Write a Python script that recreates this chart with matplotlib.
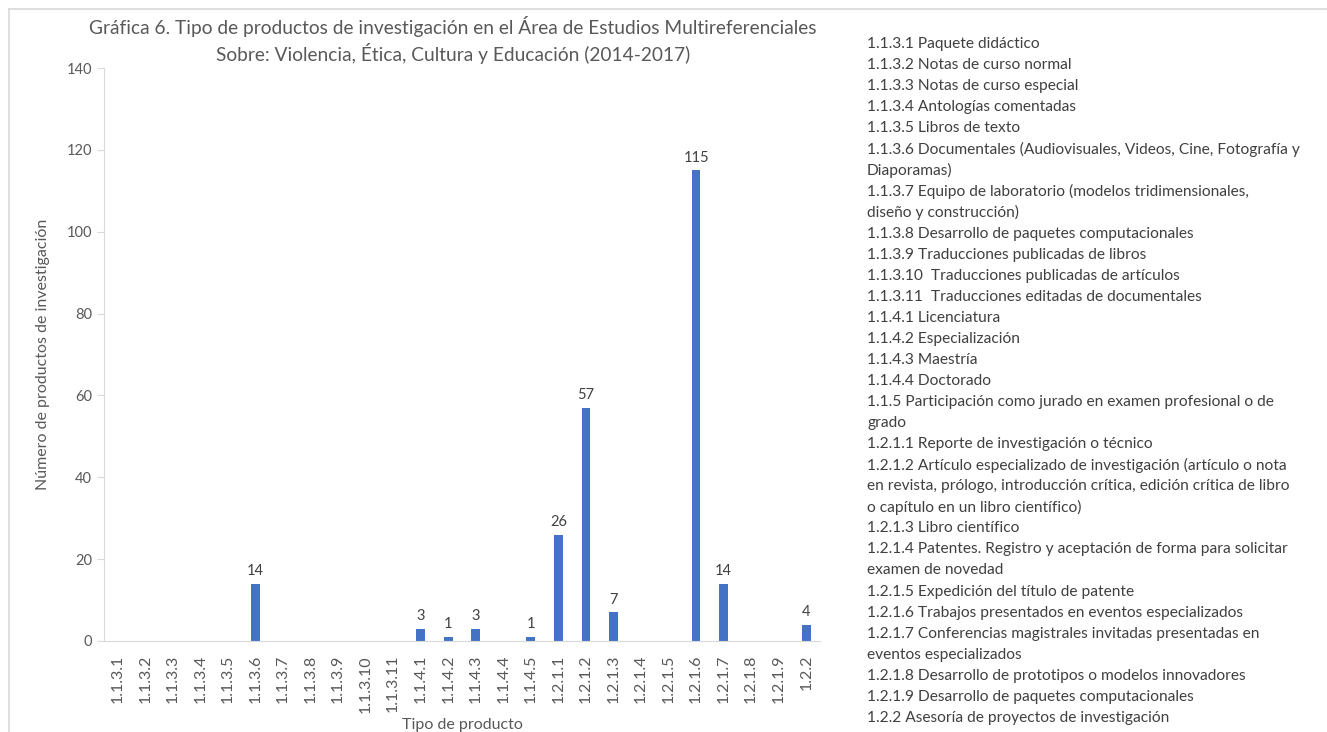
import matplotlib.pyplot as plt
from matplotlib.lines import Line2D
import numpy as np

plt.rcParams['font.family'] = ['Lato', 'DejaVu Sans']

categorias = ['1.1.3.1', '1.1.3.2', '1.1.3.3', '1.1.3.4', '1.1.3.5', '1.1.3.6',
              '1.1.3.7', '1.1.3.8', '1.1.3.9', '1.1.3.10', '1.1.3.11',
              '1.1.4.1', '1.1.4.2', '1.1.4.3', '1.1.4.4', '1.1.4.5',
              '1.2.1.1', '1.2.1.2', '1.2.1.3', '1.2.1.4', '1.2.1.5', '1.2.1.6',
              '1.2.1.7', '1.2.1.8', '1.2.1.9', '1.2.2']
valores = [0, 0, 0, 0, 0, 14, 0, 0, 0, 0, 0,
           3, 1, 3, 0, 1,
           26, 57, 7, 0, 0, 115, 14, 0, 0, 4]

descripciones = [
    "1.1.3.1 Paquete didáctico",
    "1.1.3.2 Notas de curso normal",
    "1.1.3.3 Notas de curso especial",
    "1.1.3.4 Antologías comentadas",
    "1.1.3.5 Libros de texto",
    "1.1.3.6 Documentales (Audiovisuales, Videos, Cine, Fotografía y\nDiaporamas)",
    "1.1.3.7 Equipo de laboratorio (modelos tridimensionales,\ndiseño y construcción)",
    "1.1.3.8 Desarrollo de paquetes computacionales",
    "1.1.3.9 Traducciones publicadas de libros",
    "1.1.3.10  Traducciones publicadas de artículos",
    "1.1.3.11  Traducciones editadas de documentales",
    "1.1.4.1 Licenciatura",
    "1.1.4.2 Especialización",
    "1.1.4.3 Maestría",
    "1.1.4.4 Doctorado",
    "1.1.5 Participación como jurado en examen profesional o de\ngrado",
    "1.2.1.1 Reporte de investigación o técnico",
    "1.2.1.2 Artículo especializado de investigación (artículo o nota\n"
    "en revista, prólogo, introducción crítica, edición crítica de libro\n"
    "o capítulo en un libro científico)",
    "1.2.1.3 Libro científico",
    "1.2.1.4 Patentes. Registro y aceptación de forma para solicitar\nexamen de novedad",
    "1.2.1.5 Expedición del título de patente",
    "1.2.1.6 Trabajos presentados en eventos especializados",
    "1.2.1.7 Conferencias magistrales invitadas presentadas en\neventos especializados",
    "1.2.1.8 Desarrollo de prototipos o modelos innovadores",
    "1.2.1.9 Desarrollo de paquetes computacionales",
    "1.2.2 Asesoría de proyectos de investigación",
]

W, H = 1327, 732
fig = plt.figure(figsize=(W / 100, H / 100), dpi=100)
ax = fig.add_axes([104 / W, 1 - 641 / H, (820 - 104) / W, (641 - 68) / H])

gris = '#595959'
eje = '#d9d9d9'
x = np.arange(len(categorias))
barras = ax.bar(x, valores, width=0.32, color='#4472C4')
for b, v in zip(barras, valores):
    if v > 0:
        ax.annotate(str(v), (b.get_x() + b.get_width() / 2, v), xytext=(0, 4),
                    textcoords='offset points', ha='center', va='bottom',
                    fontsize=10.5, color='#404040')

ax.set_xlim(-0.5, len(categorias) - 0.5)
ax.set_ylim(0, 140)
ax.set_yticks(range(0, 141, 20))
ax.set_xticks(x)
ax.set_xticklabels(categorias, rotation=90, fontsize=11.5, color=gris)
ax.tick_params(axis='y', colors=eje, labelcolor=gris, labelsize=10.5, length=5)
ax.tick_params(axis='x', length=0, pad=10)
for s in ['top', 'right']:
    ax.spines[s].set_visible(False)
for s in ['left', 'bottom']:
    ax.spines[s].set_color(eje)

ax.set_ylabel('Número de productos de investigación', fontsize=11.5, color=gris, labelpad=12)
ax.set_xlabel('Tipo de producto', fontsize=11.5, color=gris, labelpad=4)

fig.text(453 / W, 1 - 40 / H,
         'Gráfica 6. Tipo de productos de investigación en el Área de Estudios Multireferenciales\n'
         'Sobre: Violencia, Ética, Cultura y Educación (2014-2017)',
         ha='center', va='center', fontsize=13.8, color=gris, linespacing=1.3)

# texto de la derecha, una línea cada 21 px
lineas = []
for d in descripciones:
    lineas.extend(d.split('\n'))
for i, linea in enumerate(lineas):
    fig.text(867 / W, 1 - (44 + i * 21.06) / H, linea, ha='left', va='center',
             fontsize=11.2, color='#404040')

# marco del gráfico
fig.add_artist(Line2D([9 / W, 1], [1 - 9 / H, 1 - 9 / H], color=eje, lw=1.2))
fig.add_artist(Line2D([9 / W, 9 / W], [0, 1 - 9 / H], color=eje, lw=1.2))

fig.savefig('out.png', dpi=100)
